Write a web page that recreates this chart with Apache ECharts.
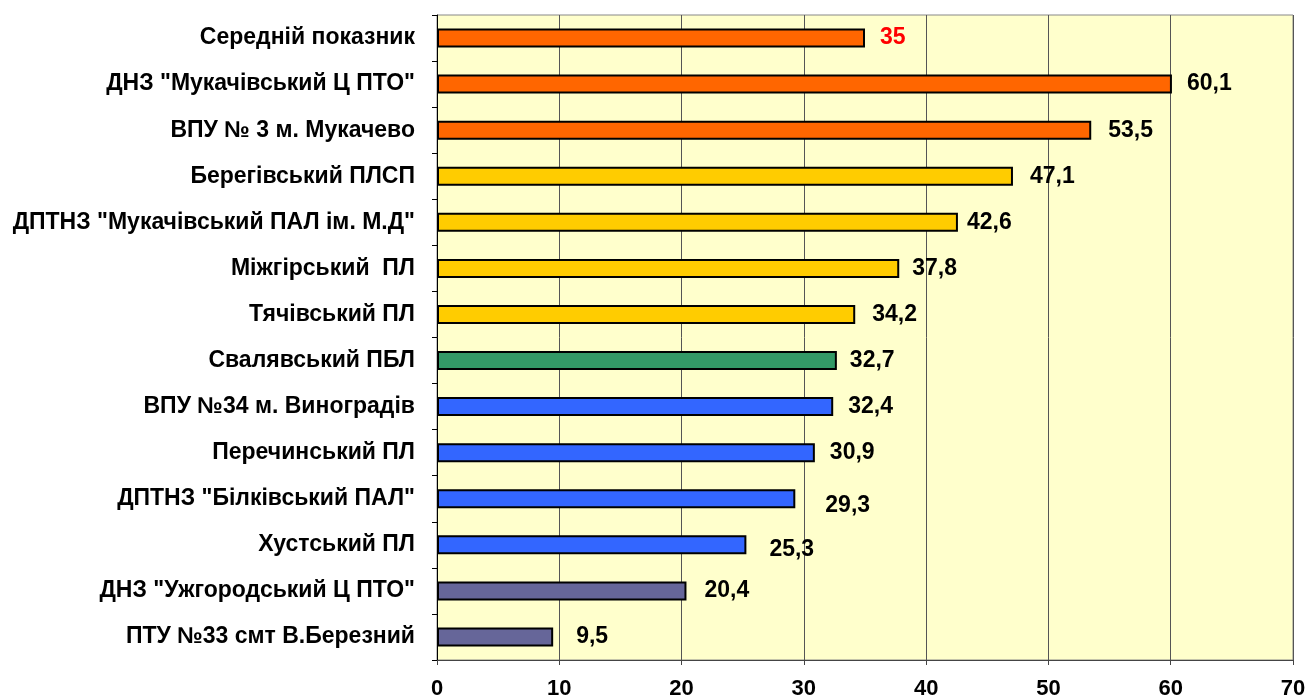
<!DOCTYPE html>
<html><head><meta charset="utf-8">
<script src="https://cdn.jsdelivr.net/npm/echarts@6/dist/echarts.min.js"></script>
<style>html,body{margin:0;padding:0;background:#fff}#c{width:1308px;height:696px}</style>
</head><body><div id="c"></div>
<script>
const categories = [
  'Середній показник',
  'ДНЗ "Мукачівський Ц ПТО"',
  'ВПУ № 3 м. Мукачево',
  'Берегівський ПЛСП',
  'ДПТНЗ "Мукачівський ПАЛ ім. М.Д"',
  'Міжгірський  ПЛ',
  'Тячівський ПЛ',
  'Свалявський ПБЛ',
  'ВПУ №34 м. Виноградів',
  'Перечинський ПЛ',
  'ДПТНЗ "Білківський ПАЛ"',
  'Хустський ПЛ',
  'ДНЗ "Ужгородський Ц ПТО"',
  'ПТУ №33 смт В.Березний'
];
const values = [35, 60.1, 53.5, 47.1, 42.6, 37.8, 34.2, 32.7, 32.4, 30.9, 29.3, 25.3, 20.4, 9.5];
const groups = ['avg','top','top','mid','mid','mid','mid','green','blue','blue','blue','blue','low','low'];
const xTicks = [0, 10, 20, 30, 40, 50, 60, 70];

const groupColor = {avg:'#FF6600', top:'#FF6600', mid:'#FFCC00', green:'#339966', blue:'#3366FF', low:'#666699'};
const labelTweak = {2:[2,0],3:[2,0],4:[-6,0],5:[-2,0],6:[2,0],7:[-2,0],10:[15,7],11:[8,5],12:[3,0],13:[8,0]};

const data = values.map((v,i)=>{
  const t = labelTweak[i] || [0,0];
  return {
    value: v,
    itemStyle: {color: groupColor[groups[i]]},
    label: {
      offset: t,
      color: groups[i]==='avg' ? '#FF0000' : '#000'
    }
  };
});

const FONT = 'Liberation Sans, Arial, sans-serif';
const chart = echarts.init(document.getElementById('c'));
chart.setOption({
  animation: false,
  grid: {left: 437, right: 15, top: 15, bottom: 36, outerBoundsMode: 'none', containLabel: false,
    show: true, backgroundColor: '#FFFFCC', borderColor: '#888', borderWidth: 1},
  xAxis: {
    type: 'value', min: xTicks[0], max: xTicks[xTicks.length-1], interval: 10,
    axisLine: {show: true, lineStyle: {color: '#444', width: 1}},
    axisTick: {show: true, length: 5, lineStyle: {color: '#444'}},
    axisLabel: {fontFamily: FONT, fontWeight: 'bold', fontSize: 22, color: '#000', margin: 18},
    splitLine: {show: true, lineStyle: {color: '#555', width: 1}}
  },
  yAxis: {
    type: 'category', data: categories, inverse: true,
    axisLine: {show: true, lineStyle: {color: '#000', width: 1}},
    axisTick: {show: true, length: 5, lineStyle: {color: '#000'}},
    axisLabel: {fontFamily: FONT, fontWeight: 'bold', fontSize: 23, color: '#000', margin: 22}
  },
  series: [{
    type: 'bar', data: data, barWidth: 19,
    itemStyle: {borderColor: '#000', borderWidth: 2},
    label: {show: true, position: 'right', distance: 15, fontFamily: FONT, fontWeight: 'bold', fontSize: 23,
      formatter: p => String(p.value).replace('.', ',')}
  }]
});
</script></body></html>
